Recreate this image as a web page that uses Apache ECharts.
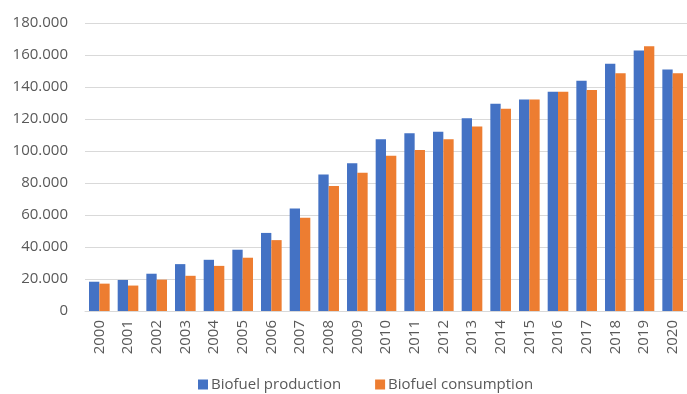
<!DOCTYPE html>
<html>
<head>
<meta charset="utf-8">
<script src="https://cdn.jsdelivr.net/npm/echarts@6/dist/echarts.min.js"></script>
<style>
html,body{margin:0;padding:0;background:#fff;}
#chart{width:687px;height:394px;}
</style>
</head>
<body>
<div id="chart"></div>
<script>
const years = ['2000','2001','2002','2003','2004','2005','2006','2007','2008','2009','2010','2011','2012','2013','2014','2015','2016','2017','2018','2019','2020'];
const production = [18300,19400,23300,29300,32000,38300,48800,64100,85300,92400,107300,111100,112100,120400,129600,132200,137000,143900,154500,162800,151000];
const consumption = [17100,15900,19600,22000,28200,33300,44300,58300,78200,86400,97100,100600,107300,115300,126400,132200,137000,138200,148600,165500,148600];
const seriesNames = ['Biofuel production','Biofuel consumption'];

const fmt = v => String(Math.round(v)).replace(/\B(?=(\d{3})+(?!\d))/g, '.');
const txt = '#595959';
const font = 'Open Sans';

const chart = echarts.init(document.getElementById('chart'), null, {renderer:'canvas'});
chart.setOption({
  animation:false,
  textStyle:{fontFamily:font},
  grid:{left:85,right:-9,top:23,bottom:83,containLabel:false},
  legend:{
    data:seriesNames,
    left:193, top:372, padding:5,
    itemWidth:10, itemHeight:10, itemGap:34,
    icon:'rect',
    textStyle:{color:txt,fontSize:15,fontFamily:font,padding:[0,0,0,-2]}
  },
  xAxis:{
    type:'category',
    data:years,
    axisLine:{lineStyle:{color:'#D9D9D9',width:1}},
    axisTick:{show:false},
    axisLabel:{rotate:90,color:txt,fontSize:15,margin:9,fontFamily:font}
  },
  yAxis:{
    type:'value',
    min:0,max:180000,interval:20000,
    axisLine:{show:false},
    axisTick:{show:false},
    splitLine:{lineStyle:{color:'#D9D9D9',width:1}},
    axisLabel:{color:txt,fontSize:15,margin:17,fontFamily:font,formatter:fmt}
  },
  series:[
    {name:seriesNames[0],type:'bar',data:production,barGap:'0%',barCategoryGap:'28%',itemStyle:{color:'#4472C4'}},
    {name:seriesNames[1],type:'bar',data:consumption,barGap:'0%',barCategoryGap:'28%',itemStyle:{color:'#ED7D31'}}
  ]
});
</script>
</body>
</html>
